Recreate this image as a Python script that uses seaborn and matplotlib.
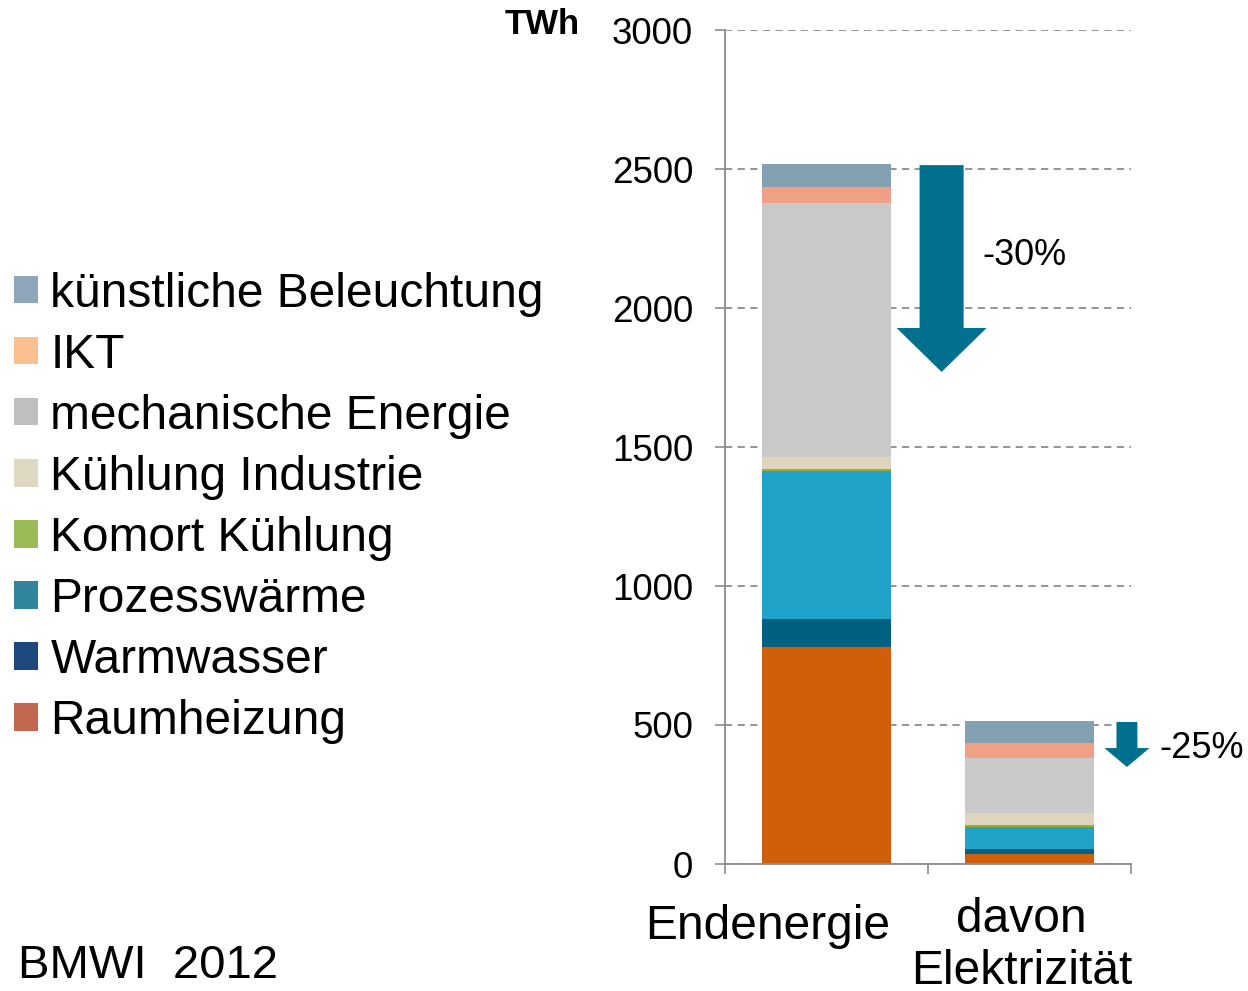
import numpy as np
import pandas as pd
import matplotlib.pyplot as plt
import seaborn as sns
from matplotlib.patches import Patch

# data (TWh)
categories = ["Endenergie", "davon\nElektrizität"]
components = ["Raumheizung", "Warmwasser", "Prozesswärme", "Komort Kühlung",
              "Kühlung Industrie", "mechanische Energie", "IKT", "künstliche Beleuchtung"]
endenergie = [780, 100, 533, 8, 42, 916, 55, 83]
elektrizitaet = [36, 18, 80, 6, 43, 197, 54, 79]
reductions = ["-30%", "-25%"]

bar_colors = ["#d05e0b", "#006080", "#20a3c8", "#a0b010",
              "#dfd4bd", "#c8c9c8", "#f0a085", "#84a0b3"]
legend_colors = ["#c06850", "#1f497d", "#31859c", "#9bbb59",
                 "#ddd9c3", "#bfbfbf", "#fac090", "#8ea5bc"]
arrow_color = "#00708f"

sns.set_theme(style="white")
plt.rcParams["font.family"] = ["Liberation Sans", "DejaVu Sans"]
plt.rcParams["text.color"] = "black"
plt.rcParams["ytick.labelcolor"] = "black"

df = pd.DataFrame({"Endenergie": endenergie, "Elektrizität": elektrizitaet}, index=components)
cum = df.cumsum()

fig = plt.figure(figsize=(12.48, 9.91), dpi=100)
ax = fig.add_axes([725 / 1248, 1 - 864 / 991, 406 / 1248, 834 / 991])

# stacked bars: draw cumulative totals from the top component down
for i in reversed(range(len(components))):
    sns.barplot(x=[0, 1], y=cum.iloc[i].values, color=bar_colors[i], width=0.64,
                saturation=1, errorbar=None, linewidth=0, ax=ax, native_scale=True)

ax.set_xlim(-0.5, 1.5)
ax.set_ylim(0, 3000)
ax.set_yticks(range(0, 3001, 500))
ax.tick_params(axis="y", labelsize=26.5, length=7, width=1.2, color="#8c8c8c",
               pad=16, left=True, labelcolor="black")
ax.set_xticks([-0.5, 0.5, 1.5])
ax.set_xticklabels([])
ax.tick_params(axis="x", length=7, width=1.2, color="#8c8c8c", bottom=True, direction="out")
ax.set_xlabel("")
ax.set_ylabel("")
ax.yaxis.grid(True, linestyle=(0, (4, 3)), color="#8c8c8c", linewidth=1.3)
ax.set_axisbelow(True)
sns.despine(ax=ax)
for s in ["left", "bottom"]:
    ax.spines[s].set_color("#8c8c8c")
    ax.spines[s].set_linewidth(1.3)

# category labels
trans = ax.get_xaxis_transform()
ax.text(-0.29, -0.0476, categories[0], transform=trans, ha="center", va="top", fontsize=34.5)
ax.text(0.96, -0.0396, categories[1], transform=trans, ha="center", va="top", fontsize=34.5,
        linespacing=1.19)

# reduction arrows
ax.arrow(0.567, 2514, 0, -744, width=0.217, head_width=0.443, head_length=158,
         length_includes_head=True, color=arrow_color, linewidth=0, zorder=5)
ax.arrow(1.48, 511, 0, -162, width=0.103, head_width=0.222, head_length=68,
         length_includes_head=True, color=arrow_color, linewidth=0, zorder=5, clip_on=False)
ax.text(0.768, 2190, reductions[0], fontsize=26, va="center", ha="left")
ax.text(1.64, 417, reductions[1], fontsize=26, va="center", ha="left", clip_on=False)

# legend (top component first)
handles = [Patch(facecolor=c, edgecolor="none") for c in legend_colors[::-1]]
fig.legend(handles, components[::-1], loc="upper left", bbox_to_anchor=(0.0112, 0.726),
           frameon=False, fontsize=34.5, handlelength=0.51, handleheight=0.51,
           handletextpad=0.25, labelspacing=0.335, borderpad=0, borderaxespad=0)

fig.text(580 / 1248, 1 - 24 / 991, "TWh", ha="right", va="center", fontsize=25,
         fontweight="bold")
fig.text(18 / 1248, 1 - 978 / 991, "BMWI  2012", ha="left", va="baseline", fontsize=34)

fig.savefig("out.png", dpi=100)
